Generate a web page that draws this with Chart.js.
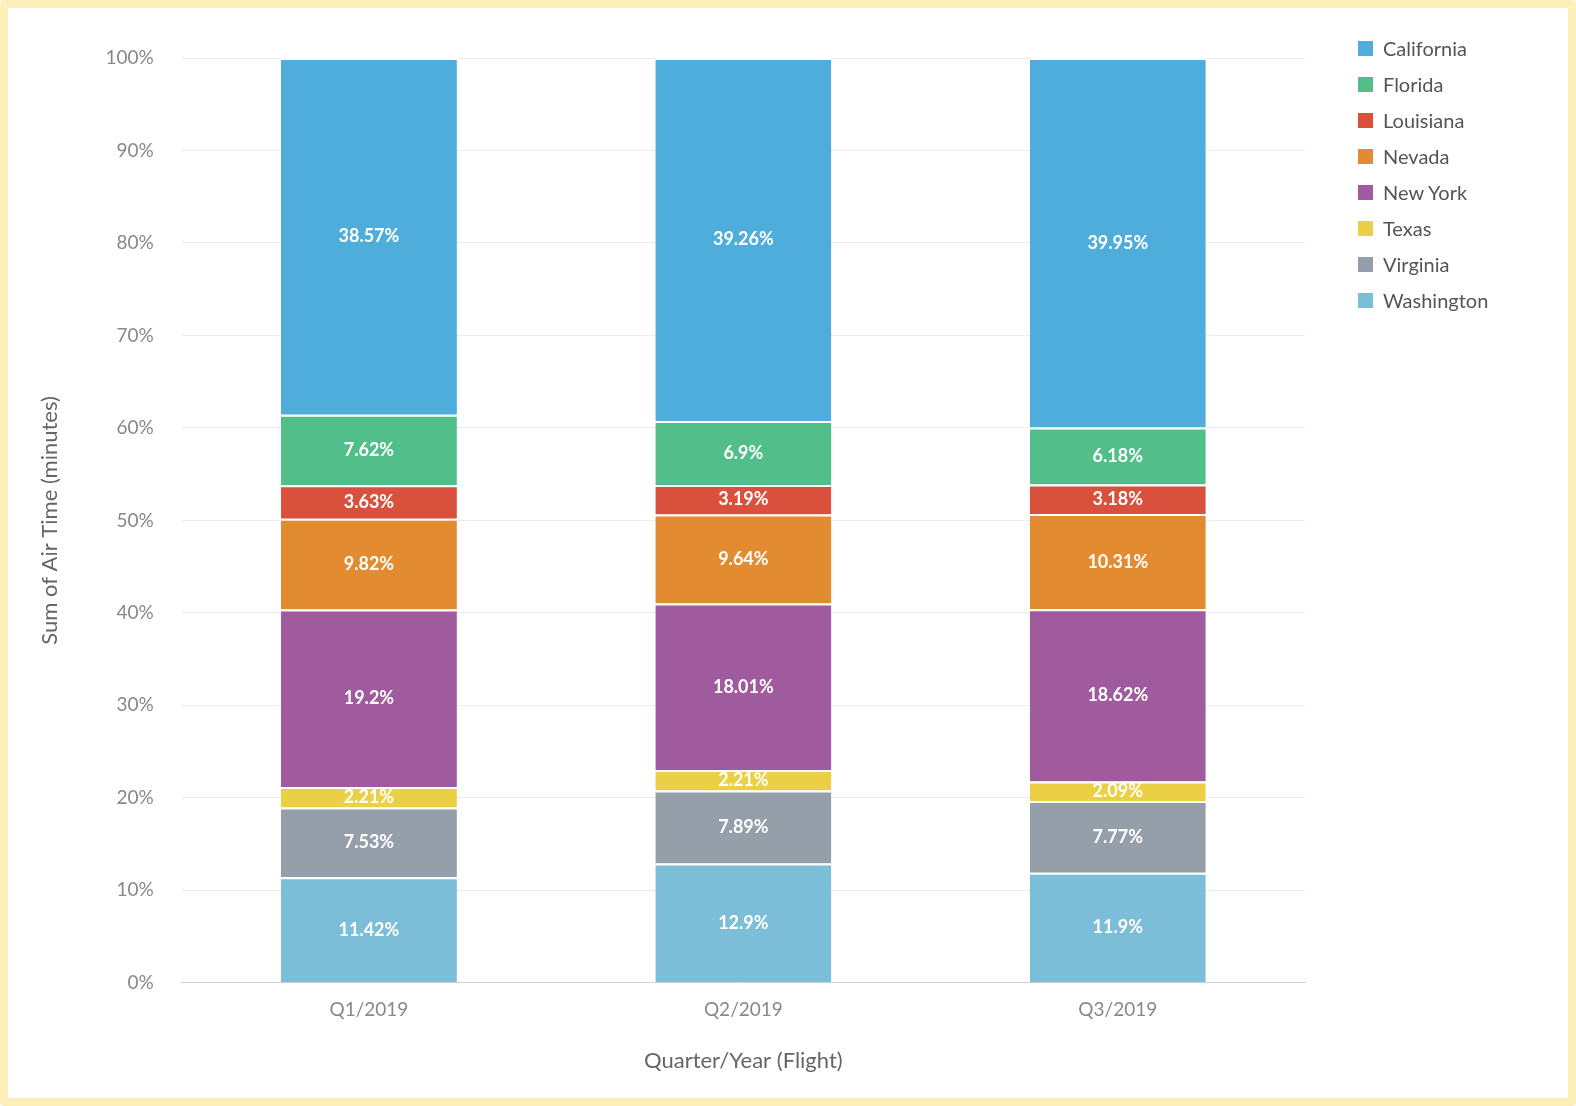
<!DOCTYPE html>
<html><head><meta charset="utf-8">
<script src="https://cdn.jsdelivr.net/npm/chart.js@4"></script>
<style>
html,body{margin:0;padding:0;background:#fff;}
#wrap{position:absolute;left:0;top:0;width:1576px;height:1106px;box-sizing:border-box;border:8px solid #fcf0b8;border-radius:4px;}
#c{position:absolute;left:0;top:0;}
#legend{position:absolute;left:1350px;top:22px;font-family:Lato,"Open Sans",sans-serif;font-size:20px;color:#555;}
#legend div{height:36px;display:flex;align-items:center;}
#legend span{display:inline-block;width:15px;height:15px;margin-right:10px;}
</style></head><body>
<div id="wrap"><canvas id="c" width="1560" height="1090"></canvas><div id="legend"></div></div>
<script>
const categories = ["Q1/2019","Q2/2019","Q3/2019"];
const states = ["Washington","Virginia","Texas","New York","Nevada","Louisiana","Florida","California"];
const washington = [11.42,12.9,11.9];
const virginia = [7.53,7.89,7.77];
const texas = [2.21,2.21,2.09];
const newYork = [19.2,18.01,18.62];
const nevada = [9.82,9.64,10.31];
const louisiana = [3.63,3.19,3.18];
const florida = [7.62,6.9,6.18];
const california = [38.57,39.26,39.95];
const yTicks = ["0%","10%","20%","30%","40%","50%","60%","70%","80%","90%","100%"];
const values = [washington,virginia,texas,newYork,nevada,louisiana,florida,california];
const colors = ["#7cbdd8","#959fa9","#ebcf45","#a05a9e","#e38b30","#d9513d","#52bf8b","#4eaddb"];

const labelPlugin = {
  id:'labels',
  afterDatasetsDraw(chart){
    const ctx = chart.ctx;
    ctx.save();
    ctx.fillStyle = '#fff';
    ctx.font = 'bold 18px Lato, "Open Sans", sans-serif';
    ctx.textAlign = 'center';
    ctx.textBaseline = 'middle';
    chart.data.datasets.forEach((ds,i)=>{
      chart.getDatasetMeta(i).data.forEach((el,j)=>{
        const p = el.getProps(['x','y','base'],true);
        ctx.fillText(ds.data[j]+'%', p.x, (p.y+p.base)/2);
      });
    });
    ctx.restore();
  }
};

const chart = new Chart(document.getElementById('c'),{
  type:'bar',
  data:{labels:categories,datasets:states.map((s,i)=>({label:s,data:values[i],backgroundColor:colors[i],borderColor:'#fff',borderWidth:{top:2},borderSkipped:false,barPercentage:0.47,categoryPercentage:1}))},
  options:{
    responsive:false,animation:false,
    layout:{padding:{left:25,top:50,right:263,bottom:20}},
    plugins:{legend:{display:false},tooltip:{enabled:false}},
    scales:{
      x:{stacked:true,grid:{display:false},border:{color:'#d0d0d0'},
        ticks:{color:'#888',font:{size:19,family:'Lato, "Open Sans", sans-serif'},padding:8},
        title:{display:true,text:'Quarter/Year (Flight)',color:'#666',font:{size:22,family:'Lato, "Open Sans", sans-serif'},padding:{top:18}}},
      y:{stacked:true,min:0,max:100,border:{display:false},grid:{color:'#ececec',drawTicks:false},
        ticks:{stepSize:10,color:'#888',padding:28,font:{size:19,family:'Lato, "Open Sans", sans-serif'},callback:(v,i)=>yTicks[i]},
        title:{display:true,text:'Sum of Air Time (minutes)',color:'#666',font:{size:22,family:'Lato, "Open Sans", sans-serif'},padding:{bottom:14}}}
    }
  },
  plugins:[labelPlugin]
});
const lg = document.getElementById('legend');
chart.data.datasets.slice().reverse().forEach(ds=>{
  const d=document.createElement('div');
  const s=document.createElement('span');s.style.background=ds.backgroundColor;
  d.appendChild(s);d.appendChild(document.createTextNode(ds.label));lg.appendChild(d);
});
</script></body></html>
